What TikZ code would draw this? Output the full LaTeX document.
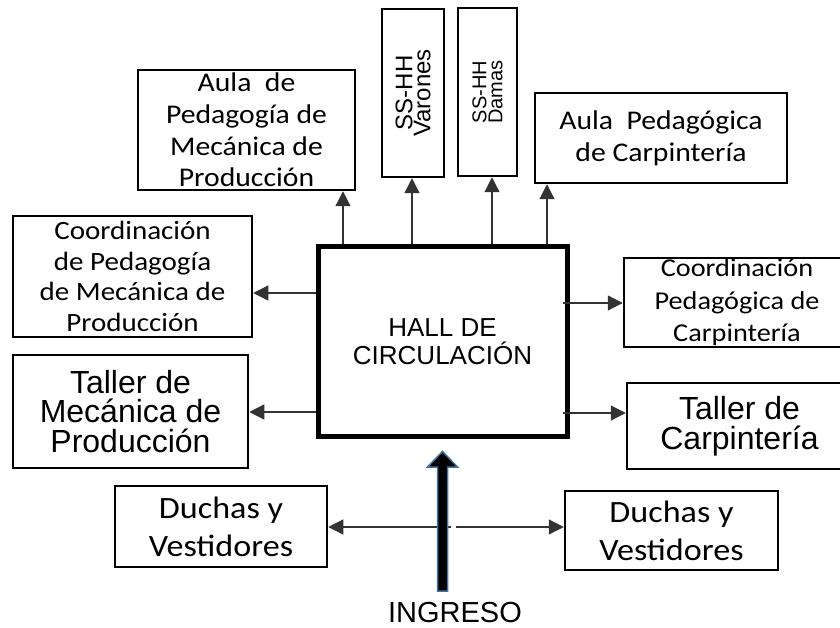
\documentclass[tikz,border=0pt]{standalone}
\usepackage{fontspec}
\usetikzlibrary{arrows.meta}
\newfontfamily\calib[FakeStretch=1.1]{Carlito}
\newfontfamily\arial{Liberation Sans}
\definecolor{ingreso-blue}{HTML}{41719C}

\begin{document}
\begin{tikzpicture}[x=1pt, y=-1pt,
        box/.style={draw, line width=2.5pt, inner sep=0pt, align=center},
        conn/.style={line width=1.2pt, draw=black!80,
          -{Triangle[length=15pt, width=15pt]}}]
      \useasboundingbox (0,0) rectangle (840,628);
      \node[box, line width=5pt, minimum width=249pt, minimum height=189pt,
        font=\arial\fontsize{26}{28}\selectfont] (hall) at (442.5,341.5) {HALL DE\\CIRCULACIÓN};
      \node[box, minimum width=217pt, minimum height=120pt,
        font=\calib\fontsize{27}{31.7}\selectfont] (aulaMec) at (246.5,130) {Aula\ \ de\\Pedagogía de\\Mecánica de\\Producción};
      \node[box, rotate=90, minimum width=168pt, minimum height=62pt,
        font=\arial\fontsize{24}{18}\selectfont] (varones) at (413,93) {SS-HH\\Varones};
      \node[box, rotate=90, minimum width=168pt, minimum height=59pt,
        font=\arial\fontsize{20}{16}\selectfont] (damas) at (487.5,92) {SS-HH\\Damas};
      \node[box, minimum width=252pt, minimum height=90pt,
        font=\calib\fontsize{27}{32}\selectfont] (aulaCarp) at (661,138) {Aula\ \ Pedagógica\\de Carpintería};
      \node[box, minimum width=239pt, minimum height=121pt,
        font=\calib\fontsize{26.4}{30.5}\selectfont] (coordMec) at (132.5,276.5) {Coordinación\\de Pedagogía\\de Mecánica de\\Producción};
      \node[box, minimum width=235pt, minimum height=113pt,
        font=\arial\fontsize{32}{29.5}\selectfont] (tallerMec) at (130.5,411.5) {Taller de\\Mecánica de\\Producción};
      \node[box, minimum width=226pt, minimum height=89pt,
        font=\calib\fontsize{25.7}{32.5}\selectfont] (coordCarp) at (737,302.5) {Coordinación\\Pedagógica de\\Carpintería};
      \node[box, minimum width=225pt, minimum height=86pt,
        font=\arial\fontsize{32}{30}\selectfont] (tallerCarp) at (739.5,426) {Taller de\\Carpintería};
      \node[box, minimum width=212pt, minimum height=81pt,
        font=\calib\fontsize{31}{38}\selectfont] (duchasL) at (221,526.5) {Duchas y\\Vestidores};
      \node[box, minimum width=213pt, minimum height=79pt,
        font=\calib\fontsize{31}{38}\selectfont] (duchasR) at (671.5,530.5) {Duchas y\\Vestidores};
      \node[inner sep=0pt, anchor=base,
        font=\arial\fontsize{29}{29}\selectfont] (ingreso) at (455,622) {INGRESO};
      \draw[conn] (hall.north -| 343,0) -- (aulaMec.south -| 343,0);
      \draw[conn] (hall.north -| 412,0) -- (varones.west -| 412,0);
      \draw[conn] (hall.north -| 492,0) -- (damas.west -| 492,0);
      \draw[conn] (hall.north -| 547,0) -- (aulaCarp.south -| 547,0);
      \draw[conn] (hall.west |- 0,293) -- (coordMec.east |- 0,293);
      \draw[conn] (hall.west |- 0,412) -- (tallerMec.east |- 0,412);
      \coordinate (hallR) at ([xshift=-7pt]hall.east);
      \draw[conn] (hallR |- 0,303) -- (coordCarp.west |- 0,303);
      \draw[conn] (hallR |- 0,413) -- (tallerCarp.west |- 0,413);
      \coordinate (ingL) at (451,527);
      \coordinate (ingR) at (456,527);
      \draw[conn] (ingL) -- (ingL -| duchasL.east);
      \draw[conn] (ingR) -- (ingR -| duchasR.west);
      \filldraw[fill=black, draw=ingreso-blue, line width=1.5pt]
        (437.5,591) -- (437.5,467) -- (427.5,467) -- (442.5,451.5)
        -- (457.5,467) -- (447.5,467) -- (447.5,591) -- cycle;
    \end{tikzpicture}
\end{document}
